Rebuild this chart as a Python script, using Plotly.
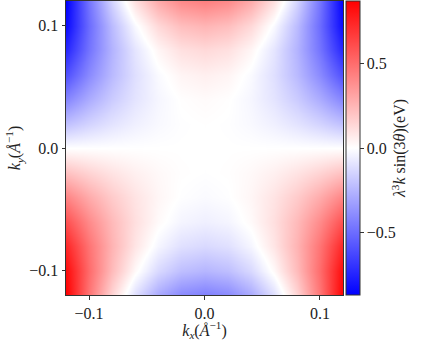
import plotly.graph_objects as go

FONT = "Liberation Serif"

kx = [-0.12, -0.10, -0.08, -0.06, -0.04, -0.02, 0.0, 0.02, 0.04, 0.06, 0.08, 0.10, 0.12]
ky = [-0.12, -0.10, -0.08, -0.06, -0.04, -0.02, 0.0, 0.02, 0.04, 0.06, 0.08, 0.10, 0.12]

# values (eV), rows follow ky from bottom to top
z = [
    [0.870, 0.471, 0.145, -0.109, -0.290, -0.399, -0.435, -0.399, -0.290, -0.109, 0.145, 0.471, 0.870],
    [0.836, 0.503, 0.232, 0.020, -0.131, -0.221, -0.252, -0.221, -0.131, 0.020, 0.232, 0.503, 0.836],
    [0.741, 0.475, 0.258, 0.089, -0.032, -0.105, -0.129, -0.105, -0.032, 0.089, 0.258, 0.475, 0.741],
    [0.598, 0.399, 0.236, 0.109, 0.018, -0.036, -0.054, -0.036, 0.018, 0.109, 0.236, 0.399, 0.598],
    [0.419, 0.286, 0.177, 0.093, 0.032, -0.004, -0.016, -0.004, 0.032, 0.093, 0.177, 0.286, 0.419],
    [0.215, 0.149, 0.095, 0.052, 0.022, 0.004, -0.002, 0.004, 0.022, 0.052, 0.095, 0.149, 0.215],
    [0.0, 0.0, 0.0, 0.0, 0.0, 0.0, 0.0, 0.0, 0.0, 0.0, 0.0, 0.0, 0.0],
    [-0.215, -0.149, -0.095, -0.052, -0.022, -0.004, 0.002, -0.004, -0.022, -0.052, -0.095, -0.149, -0.215],
    [-0.419, -0.286, -0.177, -0.093, -0.032, 0.004, 0.016, 0.004, -0.032, -0.093, -0.177, -0.286, -0.419],
    [-0.598, -0.399, -0.236, -0.109, -0.018, 0.036, 0.054, 0.036, -0.018, -0.109, -0.236, -0.399, -0.598],
    [-0.741, -0.475, -0.258, -0.089, 0.032, 0.105, 0.129, 0.105, 0.032, -0.089, -0.258, -0.475, -0.741],
    [-0.836, -0.503, -0.232, -0.020, 0.131, 0.221, 0.252, 0.221, 0.131, -0.020, -0.232, -0.503, -0.836],
    [-0.870, -0.471, -0.145, 0.109, 0.290, 0.399, 0.435, 0.399, 0.290, 0.109, -0.145, -0.471, -0.870],
]

tick_vals = [-0.1, 0.0, 0.1]
cbar_ticks = [-0.5, 0.0, 0.5]
z_lim = 0.87

fig = go.Figure(go.Heatmap(
    x=kx, y=ky, z=z,
    zsmooth="best",
    zmin=-z_lim, zmax=z_lim,
    colorscale=[[0, "#0000ff"], [0.5, "#ffffff"], [1, "#ff0000"]],
    colorbar=dict(
        x=1.011, xanchor="left", xpad=0,
        y=0.5, yanchor="middle", len=1, ypad=0,
        thickness=14,
        outlinecolor="#333333", outlinewidth=1,
        tickvals=cbar_ticks, tickformat=".1f",
        ticks="outside", ticklen=3.5, tickcolor="#333333",
        tickfont=dict(family=FONT, size=16, color="#222222"),
        title=dict(
            text="<i>λ</i><sup>3</sup><i>k</i> sin(3<i>θ</i>)(eV)",
            side="right",
            font=dict(family=FONT, size=16, color="#222222"),
        ),
    ),
))

axis_style = dict(
    range=[-0.12, 0.12],
    tickvals=tick_vals, tickformat=".1f",
    ticks="outside", ticklen=3.5, tickcolor="#333333",
    showline=True, linecolor="#333333", linewidth=1, mirror=True,
    showgrid=False, zeroline=False, automargin=False,
    tickfont=dict(family=FONT, size=16, color="#222222"),
)

fig.update_xaxes(
    **axis_style,
    title=dict(text="<i>k<sub>x</sub></i>(<i>Å</i><sup>−1</sup>)", standoff=2,
               font=dict(family=FONT, size=16, color="#222222")),
)
fig.update_yaxes(
    **axis_style,
    title=dict(text="<i>k<sub>y</sub></i>(<i>Å</i><sup>−1</sup>)", standoff=4,
               font=dict(family=FONT, size=16, color="#222222")),
)

fig.update_layout(
    width=425, height=341,
    margin=dict(l=66, r=82, t=1, b=46, autoexpand=False),
    paper_bgcolor="white", plot_bgcolor="white",
    font=dict(family=FONT),
)

# the page body has a default 8px margin; drop it so the figure sits at the corner
fig.write_html(
    "out.html",
    config={"displayModeBar": False},
    post_script="document.body.style.margin='0';",
)
